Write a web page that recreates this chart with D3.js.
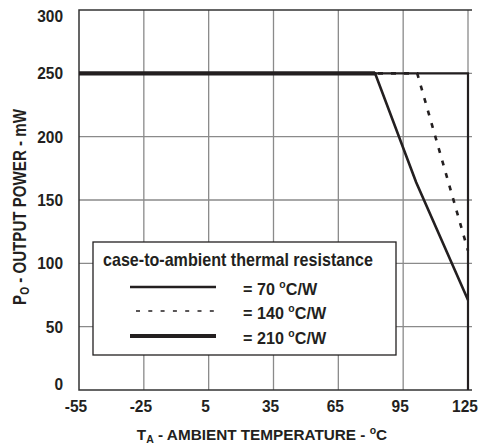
<!DOCTYPE html>
<html>
<head>
<meta charset="utf-8">
<script src="https://cdn.jsdelivr.net/npm/d3@7"></script>
<style>
  body { margin: 0; background: #fff; }
  svg text { font-family: "Liberation Sans", Arial, sans-serif; font-weight: bold; fill: #231f20; }
</style>
</head>
<body>
<script>
// data (temperature in degC, power in mW)
const xTicks = [-55, -25, 5, 35, 65, 95, 125];
const yTicks = [0, 50, 100, 150, 200, 250, 300];
const legendLabels = ["= 70 \u00B0C/W", "= 140 \u00B0C/W", "= 210 \u00B0C/W"];
const curve70 = [[-55, 250], [82, 250], [101, 164], [125, 71]];
const curve140 = [[-55, 250], [101.5, 250], [125, 110]];
const curve210 = [[-55, 250], [125, 250], [125, 0]];

const width = 485, height = 447;
const marginLeft = 79, marginTop = 10, plotRight = 468, plotBottom = 390;
const ink = "#231f20";

const svg = d3.select("body").append("svg")
  .attr("width", width)
  .attr("height", height);

const x = d3.scaleLinear([-55, 125], [marginLeft, plotRight]);
const y = d3.scaleLinear([0, 300], [plotBottom, marginTop]);

// the scanned fonts are a bit condensed, so squeeze text horizontally
function label(parent, tx, ty, size, sx, anchor, rot = 0) {
  return parent.append("text")
    .attr("transform", `translate(${tx},${ty}) rotate(${rot}) scale(${sx},1)`)
    .attr("font-size", size)
    .attr("text-anchor", anchor);
}

// grid
svg.append("g")
  .selectAll("line")
  .data(xTicks.slice(1))
  .join("line")
  .attr("x1", d => x(d)).attr("x2", d => x(d))
  .attr("y1", y(300)).attr("y2", y(0))
  .attr("stroke", "#8a8a8a")
  .attr("stroke-width", 1.3);

svg.append("g")
  .selectAll("line")
  .data(yTicks.slice(1, -1))
  .join("line")
  .attr("x1", x(-55)).attr("x2", x(125) + 4)
  .attr("y1", d => y(d)).attr("y2", d => y(d))
  .attr("stroke", "#8a8a8a")
  .attr("stroke-width", 1.3);

// frame: left, bottom, top
svg.append("path")
  .attr("d", `M${x(125) + 4},${y(300)}H${x(-55)}V${y(0)}H${x(125) + 4}`)
  .attr("fill", "none")
  .attr("stroke", "#333")
  .attr("stroke-width", 1.5);

// tick labels
xTicks.forEach(d => {
  label(svg, x(d) - 3, 412, 17.2, 0.9, "middle").text(d);
});
yTicks.forEach(d => {
  label(svg, 63, Math.min(Math.max(y(d), 16), 384) + 6, 17.2, 0.9, "end").text(d);
});

// axis titles
const xt = label(svg, 262, 440, 15.3, 1, "middle");
xt.append("tspan").text("T");
xt.append("tspan").attr("font-size", 10.5).attr("dy", 3).text("A");
xt.append("tspan").attr("dy", -3).text(" - AMBIENT TEMPERATURE - ");
xt.append("tspan").attr("font-size", 10.5).attr("dy", -6).text("o");
xt.append("tspan").attr("dy", 6).text("C");

const yt = label(svg, 26, 207, 18, 0.84, "middle", -90);
yt.append("tspan").text("P");
yt.append("tspan").attr("font-size", 12).attr("dy", 3).text("O");
yt.append("tspan").attr("dy", -3).text(" - OUTPUT POWER - mW");

// curves
const line = d3.line().x(d => x(d[0])).y(d => y(d[1]));

svg.append("path").datum(curve210)
  .attr("d", line).attr("fill", "none")
  .attr("stroke", ink).attr("stroke-width", 2.2);

svg.append("path").datum(curve140)
  .attr("d", line).attr("fill", "none")
  .attr("stroke", ink).attr("stroke-width", 2.6)
  .attr("stroke-dasharray", "5,8");

svg.append("path").datum(curve70)
  .attr("d", line).attr("fill", "none")
  .attr("stroke", ink).attr("stroke-width", 2.6);

// shared plateau drawn heavy, up to where the first curve breaks away
const plateauEnd = d3.min([curve70, curve140], c => c[1][0]);
svg.append("path").datum([[-55, 250], [plateauEnd, 250]])
  .attr("d", line).attr("fill", "none")
  .attr("stroke", ink).attr("stroke-width", 4.2);

// legend
const lg = svg.append("g");
lg.append("rect")
  .attr("x", 93).attr("y", 242)
  .attr("width", 303).attr("height", 113)
  .attr("fill", "#fff")
  .attr("stroke", ink)
  .attr("stroke-width", 1.3);

label(lg, 103, 266, 17.5, 0.92, "start")
  .text("case-to-ambient thermal resistance");

const legendStyles = [
  { w: 2.7, dash: null },
  { w: 1.6, dash: "4,8.3" },
  { w: 4, dash: null }
];
const legendY = [287, 311, 336];

legendLabels.forEach((text, i) => {
  lg.append("line")
    .attr("x1", i === 1 ? 136 : 130).attr("x2", 216)
    .attr("y1", legendY[i]).attr("y2", legendY[i])
    .attr("stroke", ink)
    .attr("stroke-width", legendStyles[i].w)
    .attr("stroke-dasharray", legendStyles[i].dash);
  const parts = text.split("\u00B0");
  const t = label(lg, 243, legendY[i] + 8, 17, 0.95, "start");
  t.append("tspan").text(parts[0]);
  t.append("tspan").attr("font-size", 11).attr("dy", -7).text("o");
  t.append("tspan").attr("dy", 7).text(parts[1]);
});
</script>
</body>
</html>
